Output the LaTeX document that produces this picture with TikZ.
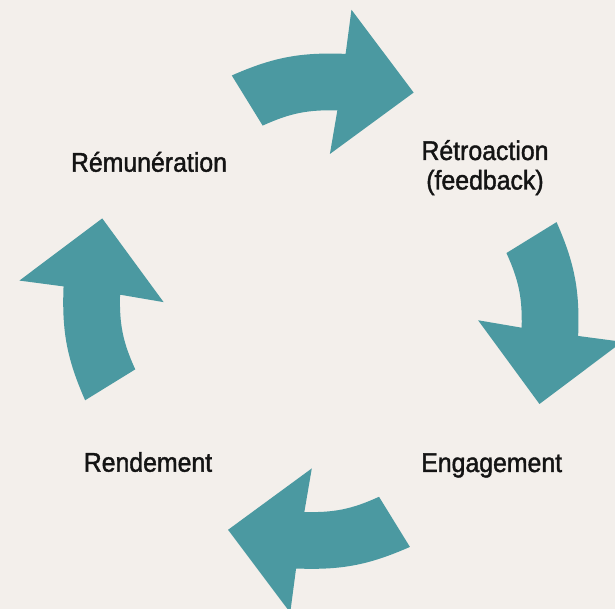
\documentclass[tikz,border=0pt]{standalone}
\usepackage{fontspec}
\setmainfont{Liberation Sans}[FakeStretch=0.92, FakeBold=1.5]
\usetikzlibrary{positioning}

\definecolor{paper}{HTML}{F3EFEB}
\definecolor{arrowteal}{HTML}{4B99A1}

\begin{document}
\begin{tikzpicture}[
    x=1pt, y=1pt,
    stage/.style={font=\fontsize{27}{29.5}\selectfont, text=black!92, inner sep=0pt, align=center, anchor=base},
    bigarrow/.style={fill=arrowteal, draw=none}
]

% Canvas
\path[use as bounding box] (-320.85,-297.8) rectangle (294.15,311.2);
\clip (-320.85,-297.8) rectangle (294.15,311.2);
\fill[paper] (-320.85,-297.8) rectangle (294.15,311.2);

% Curved arrows, one per quarter turn
\foreach \turn in {0,-90,-180,-270}
  \fill[bigarrow] ({\turn+110.7}:252) to[bend left=13] ({\turn+84.5}:258.5)
      -- ({\turn+84.2}:303) -- ({\turn+67}:237.5) -- ({\turn+86.7}:157.5)
      -- ({\turn+85.3}:201.5) to[bend right=13] ({\turn+107.4}:194.5) -- cycle;

% Stages
\node[stage] (remun) at (-171.85,139.5) {Rémunération};
\node[stage] (retro) at (164.15,121.7) {Rétroaction\\(feedback)};
\node[stage] (engage) at (170.85,-160.8) {Engagement};
\node[stage] (rend) at (-172.85,-160.5) {Rendement};

\end{tikzpicture}
\end{document}
